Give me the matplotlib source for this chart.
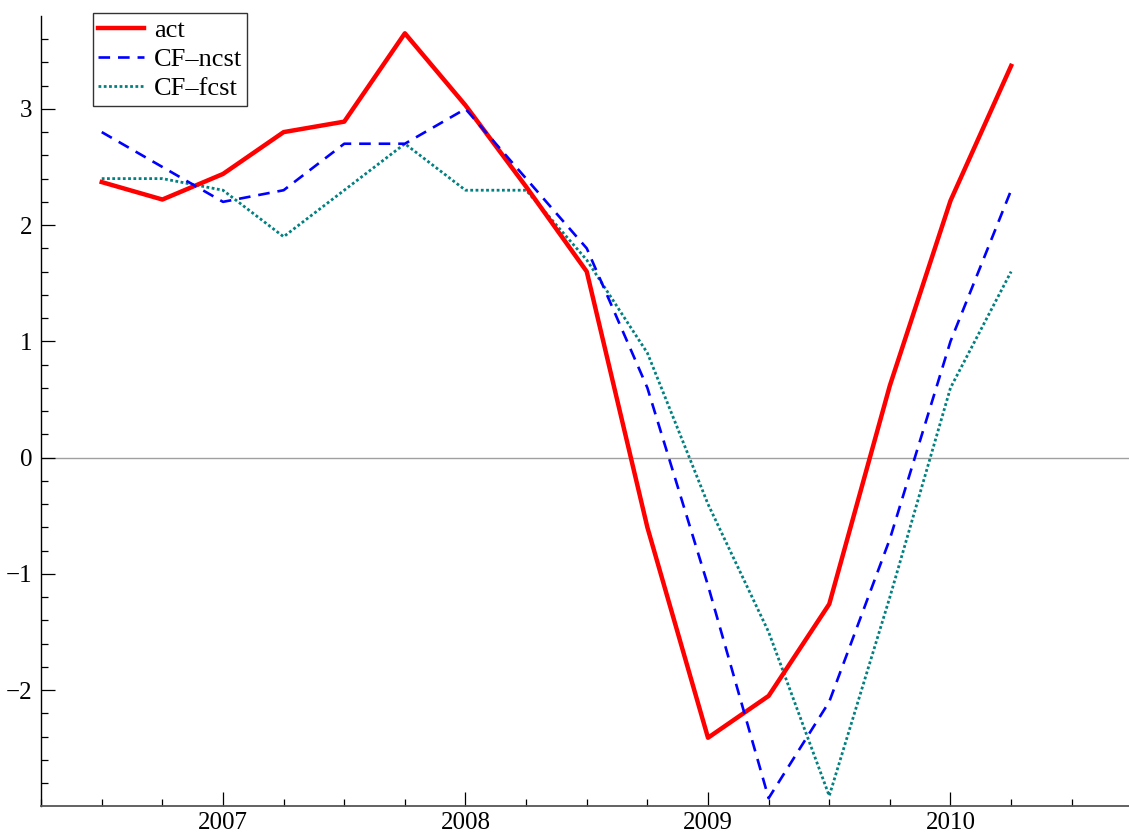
import matplotlib
matplotlib.use("Agg")
import matplotlib.pyplot as plt
from matplotlib.ticker import MultipleLocator, FixedLocator

quarters = [2006.5, 2006.75, 2007.0, 2007.25, 2007.5, 2007.75, 2008.0, 2008.25,
            2008.5, 2008.75, 2009.0, 2009.25, 2009.5, 2009.75, 2010.0, 2010.25]
act = [2.37, 2.22, 2.44, 2.80, 2.89, 3.65, 3.03, 2.33,
       1.60, -0.60, -2.41, -2.05, -1.26, 0.62, 2.21, 3.37]
cf_ncst = [2.8, 2.5, 2.2, 2.3, 2.7, 2.7, 3.0, 2.4,
           1.8, 0.6, -1.1, -2.93, -2.1, -0.7, 1.0, 2.3]
cf_fcst = [2.4, 2.4, 2.3, 1.9, 2.3, 2.7, 2.3, 2.3,
           1.7, 0.9, -0.4, -1.5, -2.91, -1.2, 0.6, 1.6]
year_ticks = [2007, 2008, 2009, 2010]
y_ticks = [-2, -1, 0, 1, 2, 3]
labels = ["act", "CF\u2013ncst", "CF\u2013fcst"]

plt.rcParams['font.family'] = ['Liberation Serif', 'DejaVu Serif']

W, H = 1129, 839
fig = plt.figure(figsize=(W / 100, H / 100), dpi=100)
left_px, right_px, top_px, bot_px = 41, 1129, 16, 806
ax = fig.add_axes([left_px / W, 1 - bot_px / H, (right_px - left_px) / W, (bot_px - top_px) / H])

ax.axhline(0, color='#a0a0a0', lw=1.0, zorder=1)
ax.plot(quarters, act, color='red', lw=3.2, label=labels[0], zorder=3)
ax.plot(quarters, cf_ncst, color='blue', lw=1.9, dashes=(4.4, 3.0), label=labels[1], zorder=4)
ax.plot(quarters, cf_fcst, color='#008080', lw=2.0, linestyle=(0, (1, 0.9)), label=labels[2], zorder=2)

px_per_year = 242.5
px_per_unit = 116.25
zero_px = 457.6
x0 = 2007.0 - (223.0 - left_px) / px_per_year
ax.set_xlim(x0, x0 + (right_px - left_px) / px_per_year)
ax.set_ylim(-(bot_px - zero_px) / px_per_unit, (zero_px - top_px) / px_per_unit)

ax.xaxis.set_major_locator(FixedLocator(year_ticks))
ax.xaxis.set_major_formatter(matplotlib.ticker.FuncFormatter(lambda v, p: f"{int(round(v))}"))
ax.xaxis.set_minor_locator(MultipleLocator(0.25))
ax.yaxis.set_major_locator(FixedLocator(y_ticks))
ax.yaxis.set_minor_locator(MultipleLocator(0.2))

for s in ['top', 'right']:
    ax.spines[s].set_visible(False)
ax.spines['left'].set_color('black')
ax.spines['bottom'].set_color('#555555')
ax.spines['left'].set_linewidth(1.0)
ax.spines['bottom'].set_linewidth(1.3)

ax.tick_params(axis='both', which='major', direction='in', length=10, width=0.9, labelsize=18)
ax.tick_params(axis='both', which='minor', direction='in', length=5, width=0.9)
ax.tick_params(axis='x', which='major', pad=4)
ax.tick_params(axis='y', which='major', pad=6)

leg = fig.legend(loc='upper left', bbox_to_anchor=(93 / W, 1 - 13 / H), borderaxespad=0,
                 fontsize=19, frameon=True, fancybox=False, handlelength=1.75,
                 handletextpad=0.35, labelspacing=0.22, borderpad=0.2)
leg.get_frame().set_edgecolor('black')
leg.get_frame().set_linewidth(1.0)

fig.savefig("out.png", dpi=100)
